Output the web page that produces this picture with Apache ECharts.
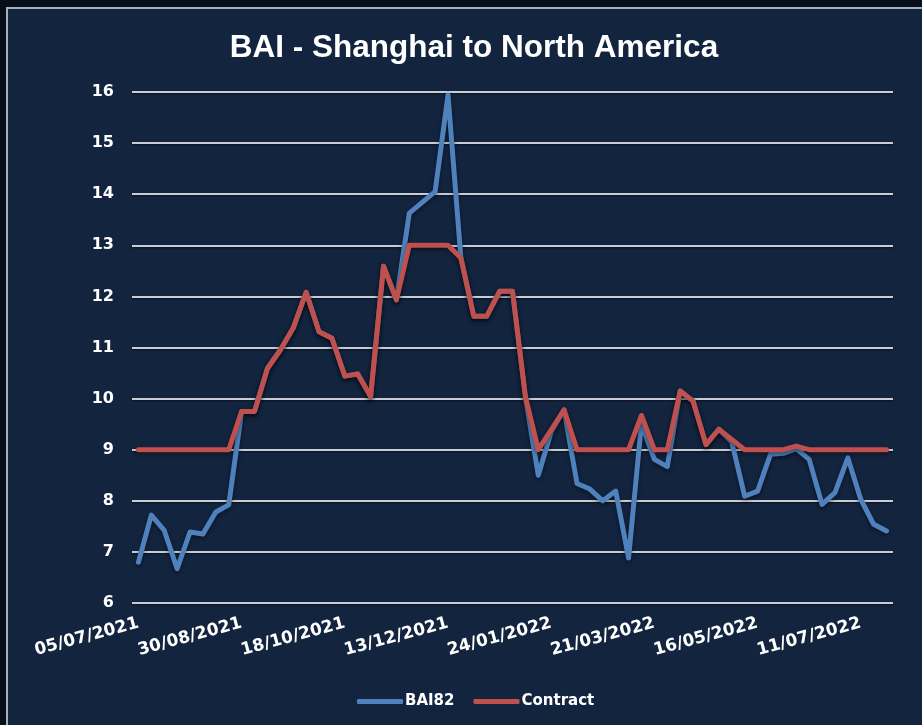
<!DOCTYPE html>
<html>
<head>
<meta charset="utf-8">
<script src="https://cdn.jsdelivr.net/npm/echarts@6/dist/echarts.min.js"></script>
<style>
  html, body { margin: 0; padding: 0; background: #050e19; }
  #chart { width: 922px; height: 725px; }
</style>
</head>
<body>
<div id="chart"></div>
<script>
const titleText = 'BAI - Shanghai to North America';

const categories = [
  '05/07/2021','12/07/2021','19/07/2021','26/07/2021','02/08/2021','09/08/2021','16/08/2021','23/08/2021',
  '30/08/2021','06/09/2021','13/09/2021','17/09/2021','20/09/2021','27/09/2021','04/10/2021','11/10/2021',
  '18/10/2021','25/10/2021','01/11/2021','08/11/2021','15/11/2021','22/11/2021','29/11/2021','06/12/2021',
  '13/12/2021','17/12/2021','20/12/2021','24/12/2021','27/12/2021','03/01/2022','10/01/2022','17/01/2022',
  '24/01/2022','31/01/2022','07/02/2022','14/02/2022','21/02/2022','28/02/2022','07/03/2022','14/03/2022',
  '21/03/2022','28/03/2022','04/04/2022','11/04/2022','18/04/2022','25/04/2022','02/05/2022','09/05/2022',
  '16/05/2022','23/05/2022','30/05/2022','06/06/2022','13/06/2022','20/06/2022','27/06/2022','04/07/2022',
  '11/07/2022','18/07/2022','25/07/2022'
];

const bai82 = [
  6.80, 7.72, 7.42, 6.67, 7.39, 7.35, 7.78, 7.92,
  9.75, 9.75, 10.59, 10.95, 11.38, 12.08, 11.31, 11.18,
  10.44, 10.48, 10.04, 12.59, 11.93, 13.63, 13.84, 14.05,
  15.94, 12.75, 11.61, 11.61, 12.10, 12.10, 10.04, 8.50,
  9.35, 9.78, 8.34, 8.23, 8.00, 8.19, 6.88, 9.52,
  8.81, 8.67, 10.15, 9.95, 9.10, 9.40, 9.15, 8.09,
  8.19, 8.91, 8.93, 9.02, 8.81, 7.93, 8.16, 8.84,
  8.03, 7.54, 7.41
];

const contract = [
  9.00, 9.00, 9.00, 9.00, 9.00, 9.00, 9.00, 9.00,
  9.75, 9.75, 10.59, 10.95, 11.38, 12.08, 11.31, 11.18,
  10.44, 10.48, 10.04, 12.59, 11.93, 13.00, 13.00, 13.00,
  13.00, 12.75, 11.61, 11.61, 12.10, 12.10, 10.04, 9.00,
  9.39, 9.78, 9.00, 9.00, 9.00, 9.00, 9.00, 9.67,
  9.00, 9.00, 10.15, 9.95, 9.10, 9.40, 9.20, 9.00,
  9.00, 9.00, 9.00, 9.07, 9.00, 9.00, 9.00, 9.00,
  9.00, 9.00, 9.00
];

const seriesNames = ['BAI82', 'Contract'];
const seriesColors = ['#4f81bd', '#c0504d'];

const labelFont = 'DejaVu Sans';

const chart = echarts.init(document.getElementById('chart'), null, { renderer: 'canvas' });

const lineSeries = (name, data, color) => ({
  name: name,
  type: 'line',
  data: data,
  smooth: false,
  symbol: 'none',
  color: color,
  lineStyle: {
    width: 5,
    color: color,
    cap: 'round',
    join: 'round',
    shadowColor: 'rgba(0,0,0,0.45)',
    shadowBlur: 4,
    shadowOffsetY: 2
  },
  emphasis: { disabled: true },
  animation: false
});

chart.setOption({
  backgroundColor: '#050e19',
  animation: false,
  graphic: [{
    type: 'rect',
    shape: { x: 7, y: 8, width: 940, height: 740 },
    style: { fill: '#13243f', stroke: '#a7aeb6', lineWidth: 2 },
    z: -10,
    silent: true
  }],
  title: {
    text: titleText,
    left: 469,
    top: 27,
    textAlign: 'center',
    textStyle: {
      color: '#ffffff',
      fontFamily: 'Liberation Sans',
      fontWeight: 'bold',
      fontSize: 31.5
    }
  },
  legend: {
    data: seriesNames,
    left: 352,
    top: 689,
    icon: 'roundRect',
    itemWidth: 46,
    itemHeight: 5,
    itemGap: 19,
    textStyle: {
      color: '#ffffff',
      fontFamily: labelFont,
      fontWeight: 'bold',
      fontSize: 15,
      padding: [0, 0, 0, -3]
    }
  },
  grid: {
    left: 132,
    right: 29,
    top: 92,
    bottom: 122,
    containLabel: false
  },
  xAxis: {
    type: 'category',
    data: categories,
    boundaryGap: true,
    axisLine: { show: false },
    axisTick: { show: false },
    splitLine: { show: false },
    axisLabel: {
      interval: 7,
      rotate: 15,
      margin: 20,
      color: '#ffffff',
      fontFamily: labelFont,
      fontWeight: 'bold',
      fontSize: 17
    }
  },
  yAxis: {
    type: 'value',
    min: 6,
    max: 16,
    interval: 1,
    axisLine: { show: false },
    axisTick: { show: false },
    axisLabel: {
      margin: 18,
      color: '#ffffff',
      fontFamily: labelFont,
      fontWeight: 'bold',
      fontSize: 16
    },
    splitLine: {
      lineStyle: {
        color: '#c9cdd3',
        width: 2,
        shadowColor: 'rgba(0,0,0,0.5)',
        shadowBlur: 2,
        shadowOffsetY: 1
      }
    }
  },
  series: [
    lineSeries(seriesNames[0], bai82, seriesColors[0]),
    lineSeries(seriesNames[1], contract, seriesColors[1])
  ]
});
</script>
</body>
</html>
